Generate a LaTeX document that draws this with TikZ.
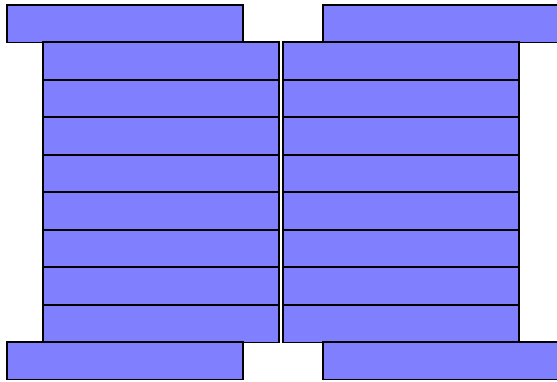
\documentclass[tikz,border=0pt]{standalone}
\begin{document}
\begin{tikzpicture}[x=1pt,y=-1pt,
  bar/.style={draw=black,fill={rgb,255:red,128;green,128;blue,255},line width=1.8pt,
    minimum width=236pt,minimum height=37.5pt,inner sep=0pt,outer sep=0pt,anchor=north west}]
\useasboundingbox (0,0) rectangle (557,381);
\clip (0,0) rectangle (557,381);
\node[bar] (tl) at (7,5) {};
\node[bar] (tr) at (323,5) {};
\foreach \i in {0,...,7}{
  \pgfmathsetmacro{\yy}{round(42+37.5*\i)}
  \node[bar] (l\i) at (43,\yy) {};
  \node[bar] (r\i) at (283,\yy) {};
}
\node[bar] (bl) at (7,342) {};
\node[bar] (br) at (323,342) {};
\end{tikzpicture}
\end{document}
